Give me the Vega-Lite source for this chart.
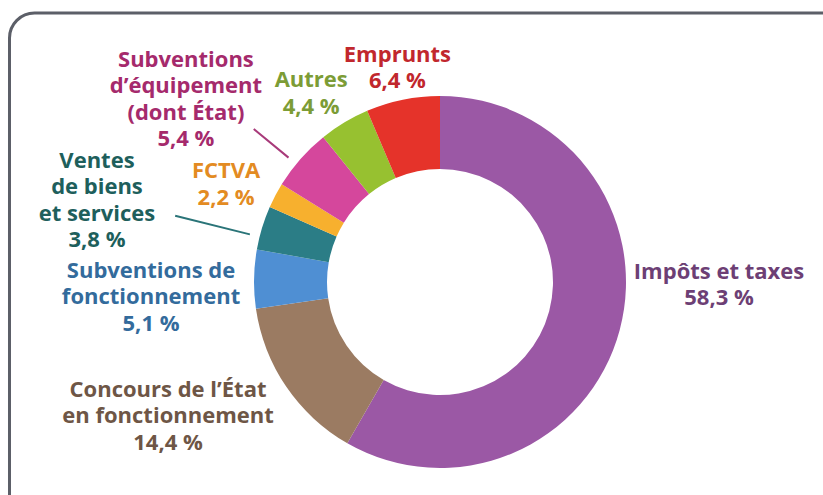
{
  "$schema": "https://vega.github.io/schema/vega-lite/v6.json",
  "autosize": {"type": "none"},
  "width": 861,
  "height": 538,
  "padding": {"left": 9.5, "top": 13, "right": -47.5, "bottom": -56},
  "background": "white",
  "view": {"stroke": "#5c5f68", "strokeWidth": 3, "cornerRadius": 25, "fill": null},
  "config": {
    "view": {"stroke": "#5c5f68", "strokeWidth": 3, "cornerRadius": 25},
    "text": {"font": "Open Sans", "fontWeight": "bold", "fontSize": 22, "lineHeight": 26.5, "align": "center", "baseline": "middle", "lineBreak": "\n"}
  },
  "data": {
    "values": [
      {"rank": 1, "cat": "Impôts et taxes", "value": 58.3, "label": "Impôts et taxes\n58,3 %"},
      {"rank": 2, "cat": "Concours de l’État en fonctionnement", "value": 14.4, "label": "Concours de l’État\nen fonctionnement\n14,4 %"},
      {"rank": 3, "cat": "Subventions de fonctionnement", "value": 5.1, "label": "Subventions de\nfonctionnement\n5,1 %"},
      {"rank": 4, "cat": "Ventes de biens et services", "value": 3.8, "label": "Ventes\nde biens\net services\n3,8 %"},
      {"rank": 5, "cat": "FCTVA", "value": 2.2, "label": "FCTVA\n2,2 %"},
      {"rank": 6, "cat": "Subventions d’équipement (dont État)", "value": 5.4, "label": "Subventions\nd’équipement\n(dont État)\n5,4 %"},
      {"rank": 7, "cat": "Autres", "value": 4.4, "label": "Autres\n4,4 %"},
      {"rank": 8, "cat": "Emprunts", "value": 6.4, "label": "Emprunts\n6,4 %"}
    ]
  },
  "encoding": {
    "theta": {"field": "value", "type": "quantitative", "stack": true},
    "order": {"field": "rank", "type": "quantitative"},
    "detail": {"field": "cat", "type": "nominal"}
  },
  "layer": [
    {
      "mark": {"type": "arc", "innerRadius": 113, "outerRadius": 186},
      "encoding": {
        "color": {
          "field": "cat", "type": "nominal", "legend": null,
          "scale": {
            "domain": ["Impôts et taxes", "Concours de l’État en fonctionnement", "Subventions de fonctionnement", "Ventes de biens et services", "FCTVA", "Subventions d’équipement (dont État)", "Autres", "Emprunts"],
            "range": ["#9b58a5", "#9b7b62", "#4f8fd3", "#2b7d86", "#f7b02e", "#d5479c", "#97c130", "#e5332a"]
          }
        }
      }
    },
    {
      "mark": {"type": "arc", "filled": false, "stroke": "#a83a7a", "strokeWidth": 2, "padAngle": 2, "innerRadius": 196, "outerRadius": 241, "thetaOffset": -0.035, "theta2Offset": -0.035},
      "encoding": {"strokeOpacity": {"condition": {"test": "datum.rank === 6", "value": 1}, "value": 0}}
    },
    {
      "mark": {"type": "arc", "filled": false, "stroke": "#2a7478", "strokeWidth": 2, "padAngle": 2, "innerRadius": 196, "outerRadius": 273, "thetaOffset": -0.05, "theta2Offset": -0.05},
      "encoding": {"strokeOpacity": {"condition": {"test": "datum.rank === 4", "value": 1}, "value": 0}}
    },
    {
      "mark": {"type": "text", "radius": 279.2, "thetaOffset": -0.2976, "fill": "#6d3f75"},
      "encoding": {"text": {"field": "label"}, "opacity": {"condition": {"test": "datum.rank === 1", "value": 1}, "value": 0}}
    },
    {
      "mark": {"type": "text", "radius": 292.5, "thetaOffset": 0.22, "fill": "#6e5646"},
      "encoding": {"text": {"field": "label"}, "opacity": {"condition": {"test": "datum.rank === 2", "value": 1}, "value": 0}}
    },
    {
      "mark": {"type": "text", "radius": 289.2, "thetaOffset": 0.024, "fill": "#336b9c"},
      "encoding": {"text": {"field": "label"}, "opacity": {"condition": {"test": "datum.rank === 3", "value": 1}, "value": 0}}
    },
    {
      "mark": {"type": "text", "radius": 363.9, "thetaOffset": 0.045, "fill": "#1e5f5c"},
      "encoding": {"text": {"field": "label"}, "opacity": {"condition": {"test": "datum.rank === 4", "value": 1}, "value": 0}}
    },
    {
      "mark": {"type": "text", "radius": 240.8, "thetaOffset": -0.007, "fill": "#e38b22"},
      "encoding": {"text": {"field": "label"}, "opacity": {"condition": {"test": "datum.rank === 5", "value": 1}, "value": 0}}
    },
    {
      "mark": {"type": "text", "radius": 337.7, "thetaOffset": -0.0035, "fill": "#a52a6c"},
      "encoding": {"text": {"field": "label"}, "opacity": {"condition": {"test": "datum.rank === 6", "value": 1}, "value": 0}}
    },
    {
      "mark": {"type": "text", "radius": 239.3, "thetaOffset": -0.028, "fill": "#7c9c36"},
      "encoding": {"text": {"field": "label"}, "opacity": {"condition": {"test": "datum.rank === 7", "value": 1}, "value": 0}}
    },
    {
      "mark": {"type": "text", "radius": 231.4, "thetaOffset": 0.016, "fill": "#c1272d"},
      "encoding": {"text": {"field": "label"}, "opacity": {"condition": {"test": "datum.rank === 8", "value": 1}, "value": 0}}
    }
  ]
}
